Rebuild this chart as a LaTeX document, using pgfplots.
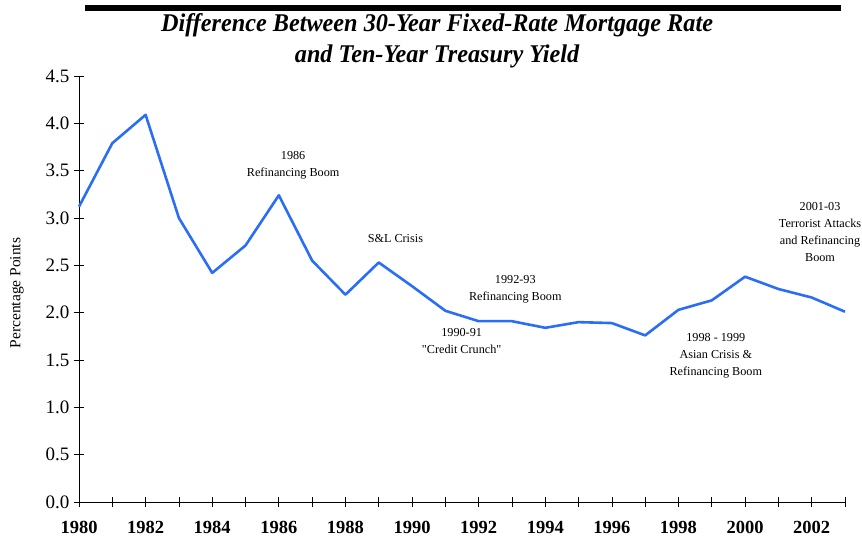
\documentclass[border=0pt]{standalone}
\usepackage{fontspec}
\setmainfont{Liberation Serif}
\newfontfamily\titlefont{Liberation Serif}[FakeStretch=0.95]
\newfontfamily\notefont{Liberation Serif}[Ligatures=ResetAll]
\usepackage{pgfplots}
\pgfplotsset{compat=1.18}
\definecolor{spread}{RGB}{42,110,245}
\begin{document}
\begin{tikzpicture}
\useasboundingbox (0,0) rectangle (862pt,538pt);
\fill (85pt,527pt) rectangle (841pt,533pt);
\node[align=center,font=\titlefont\bfseries\itshape\fontsize{25.5}{31}\selectfont] at (437pt,497pt)
  {Difference Between 30-Year Fixed-Rate Mortgage Rate\\and Ten-Year Treasury Yield};
\node[rotate=90,font=\fontsize{15.5}{17}\selectfont] at (17pt,245pt) {Percentage Points};
\begin{axis}[
  at={(79pt,36pt)}, anchor=south west,
  scale only axis,
  width=766pt, height=426pt,
  xmin=1980, xmax=2003, ymin=0, ymax=4.5,
  enlargelimits=false,
  axis lines=left,
  axis line style={-, line width=0.8pt},
  xtick={1980,1982,...,2002},
  minor xtick={1981,1983,...,2003},
  ytick={0,0.5,...,4.5},
  tick align=center,
  major tick length=10pt, minor tick length=10pt,
  tick style={black, line width=0.7pt},
  xticklabel style={font=\bfseries\fontsize{18.5}{18.5}\selectfont, inner sep=1pt, yshift=-13pt},
  yticklabel style={font=\fontsize{19}{19}\selectfont, xshift=-1pt},
  /pgf/number format/assume math mode=true,
  x tick label style={/pgf/number format/1000 sep={}},
  y tick label style={/pgf/number format/.cd, fixed, fixed zerofill, precision=1},
  clip=false,
]
\addplot[spread, line width=2.6pt, line join=round] coordinates {
  (1980,3.12) (1981,3.79) (1982,4.09) (1983,3.00) (1984,2.42) (1985,2.71)
  (1986,3.24) (1987,2.55) (1988,2.19) (1989,2.53) (1990,2.28) (1991,2.02)
  (1992,1.91) (1993,1.91) (1994,1.84) (1995,1.90) (1996,1.89) (1997,1.76)
  (1998,2.03) (1999,2.13) (2000,2.38) (2001,2.25) (2002,2.16) (2003,2.01)
};
\begin{scope}[every node/.style={align=center,font=\notefont\fontsize{12.2}{17}\selectfont}]
\node at (axis cs:1986.43,3.56) {1986\\Refinancing Boom};
\node at (axis cs:1989.5,2.78) {S\&L Crisis};
\node at (axis cs:1993.1,2.25) {1992-93\\Refinancing Boom};
\node at (axis cs:1991.49,1.70) {1990-91\\"Credit Crunch"};
\node at (axis cs:1999.12,1.54) {1998 - 1999\\Asian Crisis \&\\Refinancing Boom};
\node at (axis cs:2002.25,2.85) {2001-03\\Terrorist Attacks\\and Refinancing\\Boom};
\end{scope}
\end{axis}
\end{tikzpicture}
\end{document}
